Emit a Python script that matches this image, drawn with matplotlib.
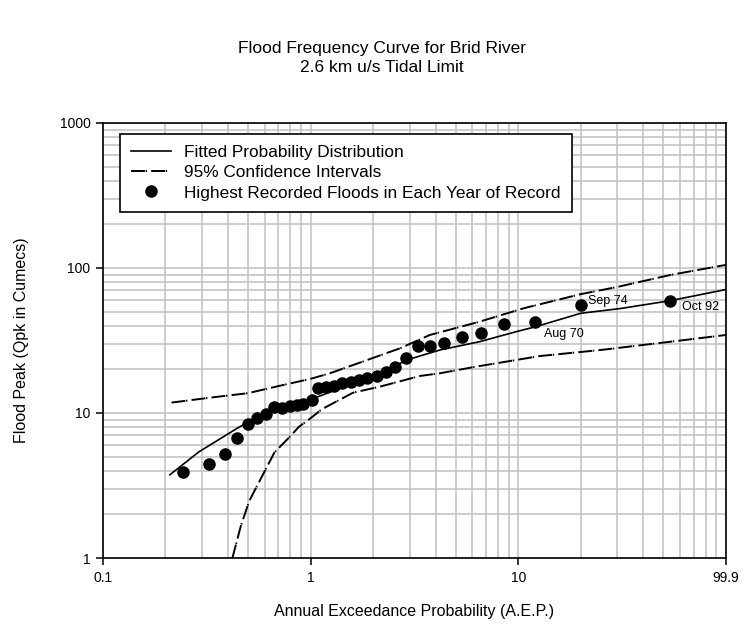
import matplotlib
matplotlib.use("Agg")
import matplotlib.pyplot as plt
from matplotlib.ticker import FixedLocator, FixedFormatter, LogLocator, NullFormatter

plt.rcParams['font.family'] = ['Liberation Sans', 'DejaVu Sans']
plt.rcParams['lines.scale_dashes'] = False

# annual maximum floods, plotted against return period
flood_x = [0.244, 0.324, 0.386, 0.44, 0.497, 0.55, 0.607, 0.668, 0.73, 0.795,
           0.856, 0.921, 1.01, 1.09, 1.19, 1.29, 1.42, 1.56, 1.71, 1.87,
           2.08, 2.30, 2.56, 2.87, 3.30, 3.75, 4.40, 5.35, 6.6, 8.55,
           12.1, 20.0, 53.7]
flood_y = [3.92, 4.43, 5.24, 6.76, 8.36, 9.19, 9.84, 10.95, 10.9, 11.2,
           11.4, 11.6, 12.2, 14.8, 15.1, 15.4, 16.0, 16.4, 16.9, 17.4,
           18.0, 19.3, 20.9, 23.8, 29.0, 29.0, 30.6, 33.6, 35.8, 40.9,
           42.2, 55.6, 59.5]

# fitted distribution
fit_x = [0.21, 0.29, 0.44, 0.66, 1.0, 1.5, 2.16, 2.9, 4.2, 6.5, 9.8, 12, 20, 31, 54, 99.9]
fit_y = [3.75, 5.4, 7.8, 10.9, 12.4, 15.4, 18.6, 23.2, 27.2, 31.0, 36.4, 39.2, 48.7, 52.5, 59.5, 71]

# 95% confidence bounds
upper_x = [0.214, 0.35, 0.5, 0.71, 1.0, 1.24, 2.69, 3.75, 6.5, 10.6, 20, 30, 54, 99.9]
upper_y = [11.8, 12.9, 13.7, 15.4, 17.2, 18.8, 27.9, 34.5, 42.6, 52.7, 66, 74, 89.5, 105]
lower_x = [0.42, 0.46, 0.506, 0.58, 0.67, 0.795, 0.88, 1.0, 1.13, 1.6, 2.16, 3.36, 4.2,
           6.3, 12.7, 25, 54, 99.9]
lower_y = [1.0, 1.64, 2.47, 3.6, 5.35, 6.87, 8.05, 9.2, 10.6, 13.8, 15.2, 18.0, 18.8,
           20.9, 24.7, 27.2, 31.0, 34.5]

# labelled events
events = ["Aug 70", "Sep 74", "Oct 92"]
event_x = [13.3, 21.7, 61.1]
event_y = [34.9, 59.5, 54.1]

xticks = [0.1, 1, 10, 99.9]
xtick_labels = ["0.1", "1", "10", "99.9"]
yticks = [1, 10, 100, 1000]
ytick_labels = ["1", "10", "100", "1000"]

fig = plt.figure(figsize=(7.46, 6.26), dpi=100)
ax = fig.add_axes([0.138, 0.1086, 0.835, 0.695])

ax.set_xscale('log')
ax.set_yscale('log')
ax.set_xlim(0.1, 99.9)
ax.set_ylim(1, 1000)

ax.plot(fit_x, fit_y, color='black', lw=1.2, label='Fitted Probability Distribution')
dash = (0, (10, 0.5, 1.0, 3.0))
ax.plot(upper_x, upper_y, color='black', lw=1.4, linestyle=dash, label='95% Confidence Intervals')
ax.plot(lower_x, lower_y, color='black', lw=1.4, linestyle=dash)
ax.plot(flood_x, flood_y, 'o', color='black', ms=8, ls='none',
        label='Highest Recorded Floods in Each Year of Record')

for name, ex, ey in zip(events, event_x, event_y):
    ax.text(ex, ey, name, fontsize=9, va='center', ha='left')

ax.xaxis.set_major_locator(FixedLocator(xticks))
ax.xaxis.set_major_formatter(FixedFormatter(xtick_labels))
ax.yaxis.set_major_locator(FixedLocator(yticks))
ax.yaxis.set_major_formatter(FixedFormatter(ytick_labels))
for axis in (ax.xaxis, ax.yaxis):
    axis.set_minor_locator(LogLocator(base=10, subs=range(2, 10)))
    axis.set_minor_formatter(NullFormatter())

ax.grid(True, which='both', color='#c0c0c0', lw=1.1)
ax.set_axisbelow(True)
ax.tick_params(which='major', direction='out', length=5, width=1.1, labelsize=10,
               colors='black', pad=4)
ax.tick_params(which='minor', length=0)
for s in ax.spines.values():
    s.set_linewidth(1.2)
    s.set_color('black')

ax.set_xlabel('Annual Exceedance Probability (A.E.P.)', fontsize=11.5, labelpad=14)
ax.set_ylabel('Flood Peak (Qpk in Cumecs)', fontsize=11.5, labelpad=22)

fig.text(0.512, 0.907, 'Flood Frequency Curve for Brid River\n2.6 km u/s Tidal Limit',
         ha='center', va='center', fontsize=12.5, linespacing=1.3)

leg = ax.legend(loc='upper left', bbox_to_anchor=(0.027, 0.975), fontsize=12.4,
                fancybox=False, framealpha=1, edgecolor='black', borderaxespad=0,
                handlelength=2.3, labelspacing=0.3, borderpad=0.65, handletextpad=0.8)
leg.get_frame().set_linewidth(1.2)

fig.savefig('out.png', dpi=100)
